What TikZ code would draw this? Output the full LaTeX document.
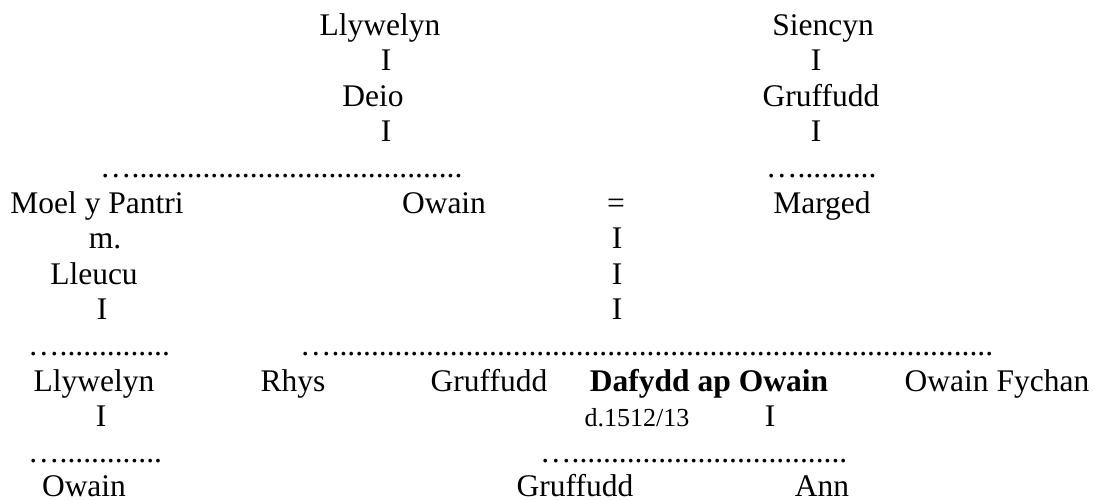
\documentclass[tikz,border=0pt]{standalone}
\usepackage{fontspec}
\setmainfont{Liberation Serif}
% a run of dots: one ellipsis followed by #1 full stops
\newcommand\dotrun[1]{…\foreach\k in {1,...,#1}{.}}
\begin{document}
\begin{tikzpicture}[x=1pt,y=-1pt,
  every node/.style={inner sep=0pt, anchor=base,
    font=\fontsize{31.5}{35.6}\selectfont},
  dotrow/.style={anchor=base west},
  datenote/.style={font=\fontsize{26}{30}\selectfont},
  heading/.style={font=\fontsize{31.5}{35.6}\selectfont\bfseries}]
\useasboundingbox (0,0) rectangle (1094,499);

% paternal line
\node (llywelynA) at (380,35.0)  {Llywelyn};
\node (barA1)     at (386,70.6)  {I};
\node (deio)      at (373,106.2) {Deio};
\node (barA2)     at (386,141.8) {I};
\node[dotrow] (sibsA) at (100,177.4) {\dotrun{42}};

% maternal line
\node (siencyn)   at (823,35.0)  {Siencyn};
\node (barB1)     at (816,70.6)  {I};
\node (gruffuddB) at (821,106.2) {Gruffudd};
\node (barB2)     at (816,141.8) {I};
\node[dotrow] (sibsB) at (766,177.4) {\dotrun{10}};

% second generation
\node (moel)      at (97,213.0)  {Moel y Pantri};
\node (owain)     at (444,213.0) {Owain};
\node (marr)      at (616,213.0) {=};
\node (marged)    at (822,213.0) {Marged};

\node (married)   at (105,248.6) {m.};
\node (barC1)     at (617,248.6) {I};
\node (lleucu)    at (94,284.2)  {Lleucu};
\node (barC2)     at (617,284.2) {I};
\node (barD1)     at (102,319.8) {I};
\node (barC3)     at (617,319.8) {I};

\node[dotrow] (sibsC) at (28,355.4)  {\dotrun{14}};
\node[dotrow] (sibsD) at (300,355.4) {\dotrun{84}};

% third generation
\node (llywelynC) at (94,391.0)  {Llywelyn};
\node (rhys)      at (293,391.0) {Rhys};
\node (gruffuddC) at (489,391.0) {Gruffudd};
\node[heading] (dafydd) at (709,391.0) {Dafydd ap Owain};
\node (owainF)    at (997,391.0) {Owain Fychan};

\node (barD2)     at (101,426.6) {I};
\node[datenote] (died) at (637,426.6) {d.1512/13};
\node (barE)      at (770,426.6) {I};

\node[dotrow] (sibsE) at (28,462.2)  {\dotrun{13}};
\node[dotrow] (sibsF) at (540,462.2) {\dotrun{35}};

% fourth generation
\node (owainD)    at (84,496.5)  {Owain};
\node (gruffuddE) at (575,496.5) {Gruffudd};
\node (ann)       at (822,496.5) {Ann};
\end{tikzpicture}
\end{document}
